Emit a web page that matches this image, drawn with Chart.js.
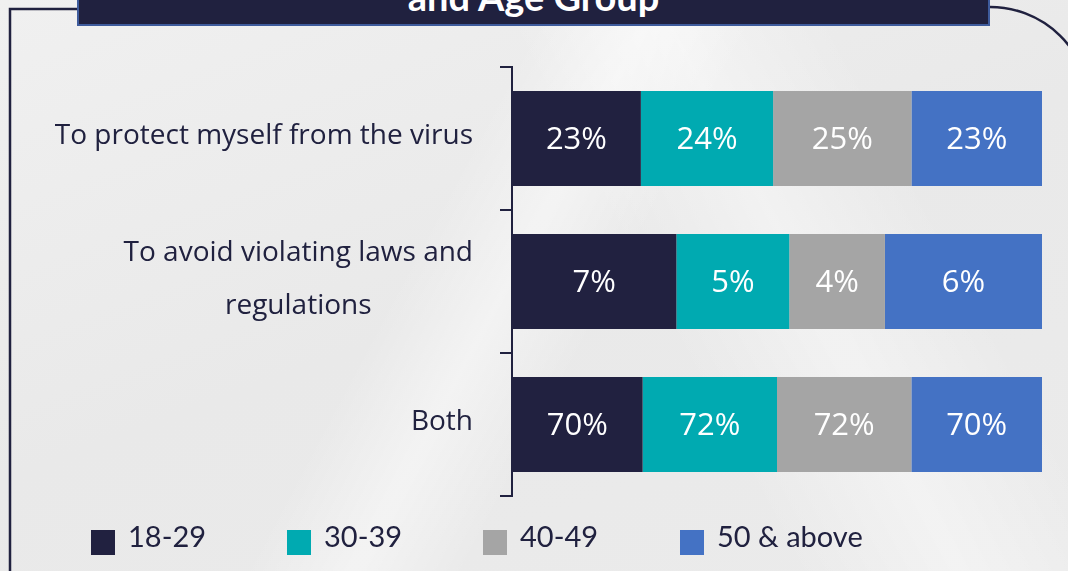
<!DOCTYPE html>
<html>
<head>
<meta charset="utf-8">
<script src="https://cdn.jsdelivr.net/npm/chart.js@4.4.0/dist/chart.umd.min.js"></script>
<style>
  html, body { margin: 0; padding: 0; }
  body {
    width: 1068px; height: 571px; overflow: hidden; position: relative;
    font-family: Lato, sans-serif;
    background:
      linear-gradient(118deg, rgba(255,255,255,0) 0%, rgba(255,255,255,0) 40%, rgba(255,255,255,0.45) 48%, rgba(255,255,255,0) 56%),
      linear-gradient(62deg, rgba(255,255,255,0) 58%, rgba(255,255,255,0.4) 70%, rgba(255,255,255,0) 82%),
      linear-gradient(160deg, #f0f0f0 0%, #e9e9e9 50%, #ebebeb 100%);
  }
  #frame { position: absolute; left: 0; top: 0; }
  .title-box {
    position: absolute; left: 77px; top: -40px; width: 909px; height: 62px;
    background: #20213f; border: 2px solid #3e5b9c;
    overflow: hidden;
  }
  .title-box span {
    position: absolute; left: 0; right: 0; top: 15px; text-align: center;
    color: #fff; font-weight: bold; font-size: 38px; line-height: 38px;
  }
  #chartWrap { position: absolute; left: 0; top: 0; width: 1068px; height: 571px; }
  .legend { position: absolute; top: 516px; left: 0; }
  .legend-item { position: absolute; display: flex; align-items: center; white-space: nowrap; }
  .legend-item i { display: inline-block; width: 24px; height: 25px; margin-right: 13px; margin-top: 14px; }
  .legend-item span { font-size: 29px; color: #20213f; }
</style>
</head>
<body>
<svg id="frame" width="1068" height="571">
  <path d="M77 9 L10 9 L10 571" fill="none" stroke="#20213f" stroke-width="2.5"/>
  <path d="M988 7 A100 100 0 0 1 1090 107" fill="none" stroke="#20213f" stroke-width="2.5"/>
</svg>
<div class="title-box"><span>and Age Group</span></div>
<div id="chartWrap"><canvas id="chart" width="1068" height="571"></canvas></div>
<div class="legend" id="legend"></div>
<script>
const categories = [['To protect myself from the virus'], ['To avoid violating laws and', 'regulations'], ['Both']];
const ageGroups = ['18-29', '30-39', '40-49', '50 & above'];
// shares; labels show them rounded
const age18to29 = [23.1, 6.7, 70];
const age30to39 = [23.7, 4.6, 72];
const age40to49 = [24.8, 3.9, 72];
const age50plus = [23.4, 6.4, 70];
const colors = ['#212140', '#00aab1', '#a5a5a5', '#4472c4'];

const series = [age18to29, age30to39, age40to49, age50plus];
// each row is drawn as a full-width bar, so scale segments by the row total
const rowTotals = categories.map((c, i) => series.reduce((s, arr) => s + arr[i], 0));

const datasets = series.map((arr, k) => ({
  label: ageGroups[k],
  data: arr.map((v, i) => v / rowTotals[i] * 100),
  raw: arr,
  backgroundColor: colors[k],
  borderWidth: 0,
  barPercentage: 0.664,
  categoryPercentage: 1
}));

// white value labels inside each segment
const valueLabels = {
  id: 'valueLabels',
  afterDatasetsDraw(chart) {
    const ctx = chart.ctx;
    ctx.save();
    ctx.fillStyle = '#ffffff';
    ctx.font = '31px "Open Sans"';
    ctx.textAlign = 'center';
    ctx.textBaseline = 'middle';
    chart.data.datasets.forEach((ds, k) => {
      chart.getDatasetMeta(k).data.forEach((bar, i) => {
        const cx = (bar.x + bar.base) / 2;
        ctx.fillText(Math.round(ds.raw[i]) + '%', cx, bar.y + 2);
      });
    });
    ctx.restore();
  }
};

// category labels: block right aligned, lines centred inside the block
const categoryLabels = {
  id: 'categoryLabels',
  afterDraw(chart) {
    const ctx = chart.ctx;
    const y = chart.scales.y;
    const rightEdge = 473;
    const lineH = 53;
    ctx.save();
    ctx.fillStyle = '#20213f';
    ctx.font = '28px "Open Sans"';
    ctx.textBaseline = 'middle';
    ctx.textAlign = 'center';
    categories.forEach((lines, i) => {
      const cy = y.getPixelForValue(i) - 2;
      const w = Math.max(...lines.map(l => ctx.measureText(l).width));
      const cx = rightEdge - w / 2;
      const top = cy - (lines.length - 1) * lineH / 2;
      lines.forEach((l, j) => ctx.fillText(l, cx, top + j * lineH));
    });
    ctx.restore();
  }
};

new Chart(document.getElementById('chart'), {
  type: 'bar',
  data: { labels: categories.map(c => c.join(' ')), datasets: datasets },
  options: {
    indexAxis: 'y',
    responsive: false,
    animation: false,
    layout: { padding: { left: 500, right: 26, top: 67, bottom: 75 } },
    scales: {
      x: { display: false, stacked: true, min: 0, max: 100 },
      y: {
        stacked: true,
        grid: { offset: true, drawOnChartArea: false, drawTicks: true, tickLength: 12, color: '#20213f', lineWidth: 2 },
        border: { display: true, color: '#20213f', width: 2 },
        ticks: { display: false },
        afterFit(scale) { scale.width = 12; }
      }
    },
    plugins: { legend: { display: false }, tooltip: { enabled: false } }
  },
  plugins: [valueLabels, categoryLabels]
});

const legendX = [91, 287, 483, 680];
const legend = document.getElementById('legend');
ageGroups.forEach((g, k) => {
  const item = document.createElement('div');
  item.className = 'legend-item';
  item.style.left = legendX[k] + 'px';
  item.innerHTML = '<i style="background:' + colors[k] + '"></i><span>' + g + '</span>';
  legend.appendChild(item);
});
</script>
</body>
</html>
